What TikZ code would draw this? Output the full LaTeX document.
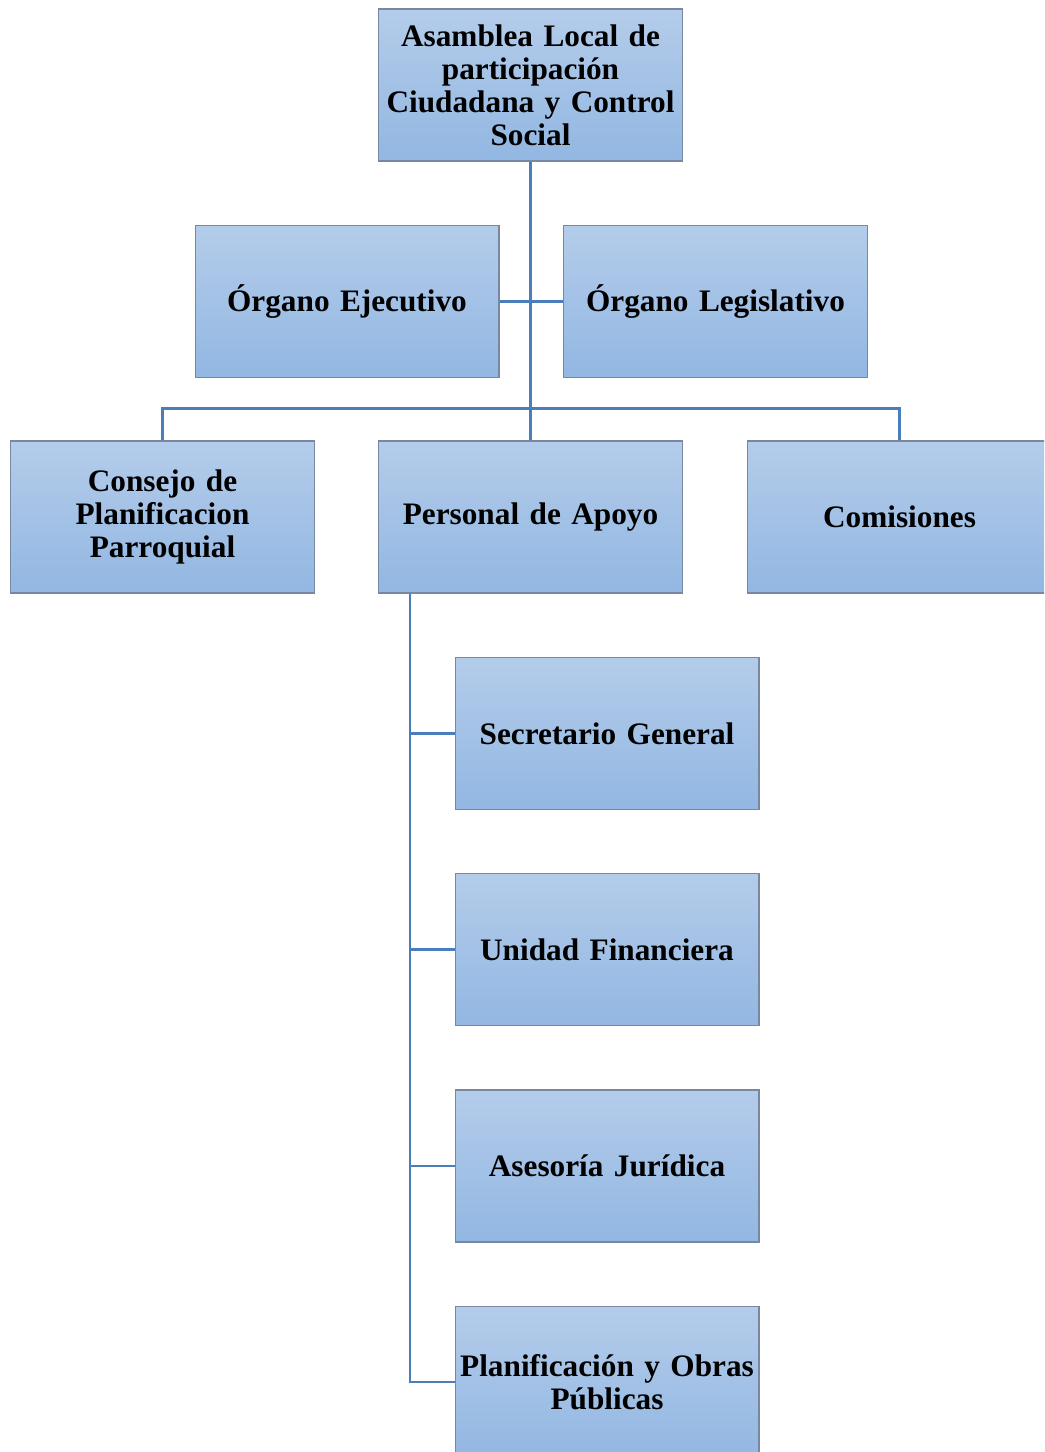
\documentclass[tikz,border=0pt]{standalone}
\usepackage{fontspec}
\setmainfont{Liberation Serif}
\usetikzlibrary{calc}
\definecolor{BoxTop}{RGB}{180,204,234}
\definecolor{BoxBottom}{RGB}{146,183,226}
\definecolor{BoxLine}{RGB}{120,136,160}
\definecolor{LinkBlue}{RGB}{74,126,187}

\begin{document}
\begin{tikzpicture}[x=0.02cm,y=-0.02cm,
    unit/.style={draw=BoxLine,line width=0.6pt,top color=BoxTop,bottom color=BoxBottom,
      minimum width=6.08cm,minimum height=3.04cm,text width=6.04cm,align=center,
      inner sep=0pt,font=\fontsize{17.8}{18.8}\selectfont\bfseries},
    link/.style={draw=LinkBlue,line width=1.6pt}]
      \useasboundingbox (0,0) rectangle (1044,1452);
      \clip (0,0) rectangle (1044,1452);
      \node[unit] (asamblea) at (530.5,85) {Asamblea Local de\\participación\\Ciudadana y Control\\Social};
      \node[unit] (ejecutivo) at (347,301.5) {Órgano Ejecutivo};
      \node[unit] (legislativo) at (715.5,301.5) {Órgano Legislativo};
      \node[unit] (consejo) at (162.5,517) {Consejo de\\Planificacion\\Parroquial};
      \node[unit] (personal) at (530.5,517) {Personal de Apoyo};
      \node[unit] (comisiones) at (899.5,517) {Comisiones};
      \node[unit] (secretario) at (607,733.5) {Secretario General};
      \node[unit] (unidad) at (607,949.5) {Unidad Financiera};
      \node[unit] (asesoria) at (607,1166) {Asesoría Jurídica};
      \node[unit] (planif) at (607,1382) {Planificación y Obras\\Públicas};
      % lines
      \draw[link] (asamblea.south) -- (personal.north);
      \draw[link] (ejecutivo.east) -- (legislativo.west);
      \draw[link] (consejo.north) -- ++(0,-32) -| (comisiones.north);
      \coordinate (bus) at ($(personal.south west)+(32,0)$);
      \foreach \n in {secretario,unidad,asesoria,planif}
        \draw[link] (bus) |- (\n.west);
    \end{tikzpicture}
\end{document}
